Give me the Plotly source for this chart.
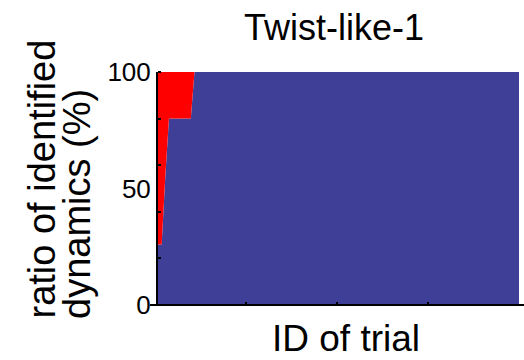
import plotly.graph_objects as go

# Ratio of identified dynamics per trial (percent)
trial_ids = list(range(1, 101))
identified = [26, 26, 55, 80, 80, 80, 80, 80, 80, 80] + [100] * 90
unidentified = [100 - v for v in identified]

y_tick_vals = [0, 50, 100]
y_tick_text = ["0", "50", "100"]
y_minor_vals = [0, 20, 40, 60, 80, 100]
x_tick_vals = [25, 50, 75, 100]

W, H = 524, 360
L, R, T, B = 158, 5, 72, 55
pw, ph = W - L - R, H - T - B


def px_x(x):
    return (x - L) / pw


def px_y(y):
    return (H - B - y) / ph


FONT = "Liberation Sans, Arial, sans-serif"

fig = go.Figure()
fig.add_trace(go.Scatter(
    x=trial_ids, y=identified, stackgroup="s", mode="none",
    fillcolor="#403F98", hoverinfo="skip", showlegend=False,
))
fig.add_trace(go.Scatter(
    x=trial_ids, y=unidentified, stackgroup="s", mode="none",
    fillcolor="#FF0000", hoverinfo="skip", showlegend=False,
))

fig.update_layout(
    width=W, height=H,
    margin=dict(l=L, r=R, t=T, b=B, pad=0),
    paper_bgcolor="white", plot_bgcolor="white",
    font=dict(family=FONT, color="black"),
    showlegend=False,
    xaxis=dict(
        range=[1, 100], tickvals=x_tick_vals, showticklabels=False,
        ticks="inside", ticklen=3, tickwidth=2, tickcolor="black",
        showgrid=False, zeroline=False, showline=False,
    ),
    yaxis=dict(
        range=[0, 100], tickvals=y_tick_vals, ticktext=y_tick_text,
        ticks="", tickfont=dict(size=26, family=FONT, color="black"),
        showgrid=False, zeroline=False,
        showline=True, linecolor="black", linewidth=2,
        minor=dict(tickvals=y_minor_vals, ticks="inside", ticklen=3,
                   tickwidth=2, tickcolor="black", showgrid=False),
    ),
)

# Bottom axis line running slightly past the plot frame
fig.add_shape(type="line", xref="paper", yref="paper",
              x0=px_x(150), x1=px_x(524), y0=0, y1=0,
              line=dict(color="black", width=2))

# Title
fig.add_annotation(text="Twist-like-1", xref="paper", yref="paper",
                   x=px_x(334), y=px_y(27), xanchor="center", yanchor="middle",
                   showarrow=False, font=dict(size=36, family=FONT, color="black"))
# X axis title
fig.add_annotation(text="ID of trial", xref="paper", yref="paper",
                   x=px_x(346), y=px_y(338), xanchor="center", yanchor="middle",
                   showarrow=False, font=dict(size=37, family=FONT, color="black"))
# Y axis title, two lines
fig.add_annotation(text="ratio of identified", xref="paper", yref="paper",
                   x=px_x(41), y=px_y(321), xanchor="center", yanchor="bottom",
                   textangle=-90, showarrow=False,
                   font=dict(size=38, family=FONT, color="black"))
fig.add_annotation(text="dynamics (%)", xref="paper", yref="paper",
                   x=px_x(77), y=px_y(321), xanchor="center", yanchor="bottom",
                   textangle=-90, showarrow=False,
                   font=dict(size=38, family=FONT, color="black"))

fig.write_html("out.html")
